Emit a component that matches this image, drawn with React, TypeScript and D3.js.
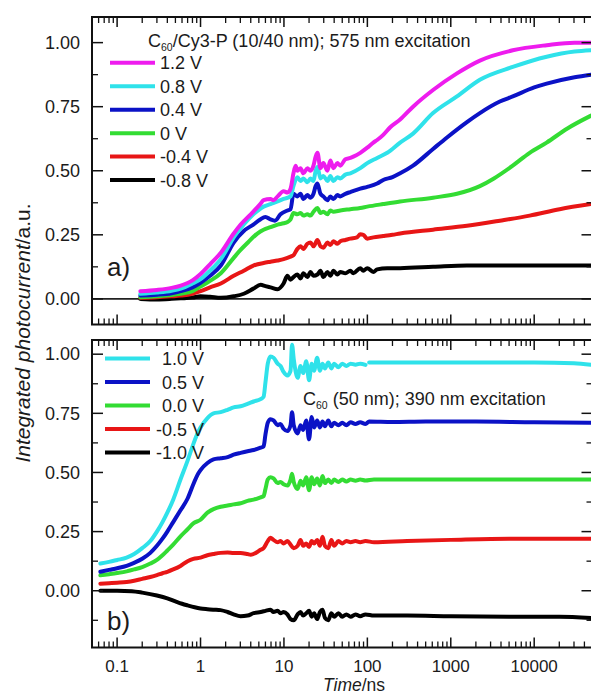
import React from 'react';
import * as d3 from 'd3';

type P = [number, number];

// ---------- axis data ----------
const xMajorTicks = [0.1, 1, 10, 100, 1000, 10000];
const xTickLabels = ['0.1', '1', '10', '100', '1000', '10000'];
const yMajorTicks = [0, 0.25, 0.5, 0.75, 1.0];
const yTickLabels = ['0.00', '0.25', '0.50', '0.75', '1.00'];

// ---------- panel a) C60/Cy3-P, 575 nm ----------
const topLabels = ['1.2 V', '0.8 V', '0.4 V', '0 V', '-0.4 V', '-0.8 V'];

const topP12: P[] = [[0.19,0.03],[0.3,0.035],[0.45,0.043],[0.58,0.052],[0.8,0.072],[1.0,0.097],[1.3,0.135],[1.75,0.18],[2.5,0.255],[3.03,0.29],[4.0,0.33],[5.2,0.37],[5.7,0.385],[6.9,0.39],[7.5,0.385],[8.4,0.40],[9.9,0.42],[11,0.415],[12,0.43],[13.0,0.49],[13.8,0.52],[14.5,0.50],[15.8,0.51],[17.1,0.49],[19.1,0.51],[20.8,0.50],[22.6,0.52],[24,0.555],[25.2,0.57],[27.4,0.51],[29.7,0.53],[33.2,0.50],[36,0.54],[39.2,0.51],[43.7,0.53],[47.4,0.52],[54.5,0.545],[62.5,0.55],[67.9,0.555],[82.3,0.57],[99.7,0.59],[118,0.61],[131,0.62],[155,0.64],[188,0.67],[247,0.70],[353,0.75],[613,0.815],[1186,0.88],[2233,0.93],[5534,0.97],[14100,0.99],[30500,1.0],[48000,1.0]];
const topP08: P[] = [[0.19,0.02],[0.3,0.025],[0.45,0.032],[0.58,0.04],[0.8,0.06],[1.0,0.077],[1.3,0.11],[1.75,0.155],[2.5,0.24],[3.3,0.29],[4.3,0.33],[5.7,0.36],[6.9,0.37],[8.4,0.38],[9.9,0.39],[12,0.40],[13,0.44],[14.5,0.475],[15.8,0.46],[17.1,0.47],[19.1,0.455],[20.8,0.47],[22.6,0.46],[24,0.50],[25.2,0.515],[27.4,0.47],[29.7,0.48],[33.2,0.46],[36,0.48],[39.2,0.46],[43.7,0.475],[47.4,0.47],[54.5,0.485],[62.5,0.49],[82.3,0.51],[99.7,0.53],[131,0.55],[173,0.57],[247,0.61],[353,0.645],[613,0.725],[1186,0.79],[2233,0.855],[5534,0.905],[14100,0.945],[30500,0.965],[48000,0.97]];
const topP04: P[] = [[0.19,0.013],[0.3,0.016],[0.45,0.022],[0.58,0.03],[0.8,0.045],[1.0,0.063],[1.3,0.09],[1.75,0.13],[2.5,0.22],[3.3,0.265],[4.3,0.29],[5.2,0.31],[6.0,0.32],[6.9,0.31],[7.8,0.305],[9.1,0.33],[11,0.345],[12,0.35],[13,0.41],[14.5,0.40],[15.8,0.41],[17.1,0.39],[19.1,0.405],[20.8,0.395],[22.6,0.41],[24,0.44],[25.2,0.45],[27.4,0.41],[29.7,0.40],[33.2,0.385],[36,0.40],[39.2,0.39],[43.7,0.405],[47.4,0.40],[54.5,0.41],[62.5,0.417],[82.3,0.43],[99.7,0.437],[131,0.45],[155,0.464],[200,0.475],[247,0.49],[353,0.52],[613,0.585],[901,0.63],[1562,0.69],[2233,0.725],[3873,0.77],[5534,0.79],[10000,0.825],[14100,0.84],[30500,0.865],[48000,0.875]];
const topP00: P[] = [[0.19,0.006],[0.3,0.01],[0.45,0.015],[0.58,0.02],[0.8,0.03],[1.0,0.048],[1.3,0.07],[1.75,0.10],[2.5,0.16],[3.0,0.19],[3.7,0.22],[4.8,0.255],[5.7,0.27],[6.9,0.28],[8.4,0.29],[9.9,0.295],[11,0.30],[12,0.31],[13,0.335],[14.5,0.33],[15.8,0.335],[17.1,0.325],[19.1,0.33],[20.8,0.325],[22.6,0.34],[25.2,0.355],[27.4,0.335],[29.7,0.34],[33.2,0.33],[36,0.345],[39.2,0.34],[47.4,0.345],[62.5,0.35],[82.3,0.355],[99.7,0.36],[155,0.37],[247,0.38],[613,0.395],[1186,0.41],[2233,0.44],[3290,0.47],[5534,0.52],[8830,0.57],[14100,0.61],[25000,0.665],[48000,0.715]];
const topM04: P[] = [[0.19,0.004],[0.3,0.006],[0.45,0.01],[0.58,0.013],[0.8,0.02],[1.0,0.03],[1.3,0.045],[1.75,0.06],[2.5,0.09],[3.3,0.11],[4.3,0.13],[5.7,0.14],[6.9,0.145],[8.4,0.15],[9.9,0.155],[12,0.165],[13,0.17],[14.5,0.195],[15.8,0.205],[17.1,0.195],[19.1,0.215],[20.8,0.22],[22.6,0.205],[25.2,0.23],[27.4,0.205],[29.7,0.20],[33.2,0.22],[36,0.21],[39.2,0.225],[43.7,0.215],[47.4,0.225],[54.5,0.23],[62.5,0.235],[75,0.24],[82.3,0.252],[89.4,0.25],[99.7,0.235],[118,0.24],[155,0.245],[200,0.25],[247,0.255],[613,0.27],[1562,0.285],[3873,0.305],[8830,0.325],[20180,0.35],[48000,0.37]];
const topM08: P[] = [[0.19,0.0],[0.3,-0.002],[0.45,0.0],[0.58,0.002],[0.8,0.005],[1.0,0.01],[1.3,0.008],[1.75,0.004],[2.5,0.01],[3.3,0.02],[4.3,0.04],[5.25,0.055],[6.0,0.05],[6.9,0.045],[8.4,0.038],[9.9,0.06],[11,0.09],[12,0.075],[13,0.085],[14.5,0.095],[15.8,0.08],[17.1,0.1],[19.1,0.085],[20.8,0.105],[22.6,0.09],[25.2,0.095],[27.4,0.11],[29.7,0.085],[33.2,0.105],[36,0.09],[39.2,0.11],[43.7,0.095],[47.4,0.105],[54.5,0.10],[62.5,0.11],[67.9,0.10],[82.3,0.12],[89.4,0.11],[99.7,0.12],[118,0.105],[131,0.115],[173,0.12],[247,0.12],[613,0.125],[1562,0.13],[5000,0.13],[48000,0.13]];

// ---------- panel b) C60, 390 nm ----------
const botLabels = ['1.0 V', '0.5 V', '0.0 V', '-0.5 V', '-1.0 V'];

const botP10: P[] = [[0.063,0.115],[0.08,0.122],[0.1,0.13],[0.13,0.14],[0.16,0.155],[0.2,0.18],[0.25,0.21],[0.3,0.25],[0.35,0.29],[0.4,0.33],[0.47,0.385],[0.575,0.47],[0.7,0.55],[0.82,0.62],[0.92,0.665],[1.0,0.69],[1.21,0.73],[1.43,0.75],[1.74,0.755],[2.11,0.765],[2.49,0.775],[3.02,0.78],[3.66,0.79],[4.33,0.80],[5.25,0.81],[5.7,0.82],[6.0,0.88],[6.4,0.96],[6.9,0.99],[7.5,0.985],[8.4,0.96],[9.1,0.95],[9.9,0.925],[11,0.91],[12,0.93],[12.5,1.04],[13.1,0.98],[14.6,0.90],[15.8,0.95],[17,0.92],[18.5,0.97],[20,0.89],[21.5,0.96],[23,0.93],[25,0.985],[27,0.93],[29,0.96],[31,0.94],[34,0.965],[37,0.94],[40,0.96],[45,0.945],[50,0.96],[56,0.95],[63,0.96],[72,0.955],[82,0.96],[95,0.955],[100,NaN],[105,0.965],[200,0.965],[500,0.965],[2000,0.965],[10000,0.965],[30000,0.962],[48000,0.955]];
const botP05: P[] = [[0.063,0.08],[0.08,0.088],[0.1,0.095],[0.13,0.105],[0.16,0.118],[0.2,0.135],[0.25,0.16],[0.3,0.19],[0.35,0.22],[0.4,0.25],[0.47,0.29],[0.575,0.34],[0.7,0.39],[0.82,0.45],[0.92,0.49],[1.0,0.51],[1.21,0.54],[1.43,0.555],[1.74,0.56],[2.11,0.565],[2.49,0.575],[3.02,0.583],[3.66,0.59],[4.33,0.595],[5.25,0.605],[5.7,0.61],[6.0,0.66],[6.4,0.71],[6.9,0.725],[7.5,0.72],[8.4,0.70],[9.1,0.705],[9.9,0.685],[11,0.675],[12,0.70],[12.5,0.755],[13.1,0.70],[14.6,0.665],[15.8,0.70],[17,0.68],[18.5,0.72],[20,0.64],[21.5,0.735],[23,0.69],[25,0.72],[27,0.69],[29,0.715],[31,0.695],[34,0.72],[37,0.695],[40,0.71],[45,0.70],[50,0.71],[56,0.70],[63,0.712],[72,0.705],[82,0.712],[95,0.705],[105,0.715],[200,0.713],[500,0.715],[2000,0.715],[10000,0.712],[48000,0.71]];
const botP00: P[] = [[0.063,0.065],[0.08,0.07],[0.1,0.075],[0.13,0.082],[0.16,0.09],[0.2,0.10],[0.25,0.115],[0.3,0.13],[0.35,0.15],[0.4,0.17],[0.47,0.195],[0.575,0.23],[0.7,0.26],[0.82,0.285],[1.0,0.30],[1.21,0.33],[1.43,0.345],[1.74,0.355],[2.11,0.36],[2.49,0.365],[3.02,0.37],[3.66,0.38],[4.33,0.385],[5.25,0.395],[5.7,0.40],[6.0,0.43],[6.4,0.47],[6.9,0.48],[7.5,0.475],[8.4,0.455],[9.1,0.46],[9.9,0.45],[11,0.445],[12,0.47],[12.5,0.495],[13.1,0.46],[14.6,0.43],[15.8,0.465],[17,0.445],[18.5,0.48],[20,0.425],[21.5,0.48],[23,0.45],[25,0.475],[27,0.445],[29,0.485],[31,0.455],[34,0.47],[37,0.455],[40,0.47],[45,0.46],[50,0.47],[56,0.462],[63,0.47],[72,0.465],[82,0.47],[95,0.466],[120,0.47],[300,0.47],[1000,0.47],[5000,0.47],[48000,0.47]];
const botM05: P[] = [[0.063,0.03],[0.08,0.032],[0.1,0.034],[0.13,0.037],[0.16,0.042],[0.2,0.05],[0.25,0.058],[0.3,0.066],[0.35,0.074],[0.4,0.08],[0.47,0.09],[0.575,0.105],[0.7,0.125],[0.82,0.135],[1.0,0.14],[1.21,0.15],[1.43,0.155],[1.74,0.16],[2.11,0.162],[2.49,0.16],[3.02,0.16],[3.66,0.155],[4.0,0.152],[4.6,0.16],[5.25,0.173],[5.7,0.18],[6.4,0.21],[6.9,0.224],[7.5,0.215],[8.4,0.205],[9.1,0.21],[9.9,0.20],[11,0.21],[12,0.195],[13.1,0.18],[14.6,0.19],[15.8,0.215],[17,0.19],[18.5,0.20],[20,0.185],[21.5,0.21],[23,0.20],[25,0.215],[27,0.19],[29,0.228],[31,0.19],[34,0.18],[37,0.215],[40,0.19],[45,0.21],[50,0.20],[56,0.21],[63,0.205],[72,0.21],[82,0.205],[95,0.21],[120,0.205],[300,0.21],[1000,0.215],[5000,0.22],[48000,0.22]];
const botM10: P[] = [[0.063,0.0],[0.1,0.0],[0.15,-0.002],[0.2,-0.008],[0.3,-0.02],[0.4,-0.032],[0.5,-0.045],[0.6,-0.055],[0.7,-0.062],[0.85,-0.07],[1.0,-0.075],[1.21,-0.078],[1.43,-0.08],[1.74,-0.082],[2.11,-0.09],[2.49,-0.1],[3.02,-0.108],[3.66,-0.105],[4.33,-0.095],[5.25,-0.09],[6.0,-0.085],[6.9,-0.08],[7.5,-0.09],[8.4,-0.085],[9.1,-0.095],[9.9,-0.09],[11,-0.10],[12,-0.12],[13.1,-0.125],[14.6,-0.10],[15.8,-0.09],[17,-0.105],[18.5,-0.095],[20,-0.085],[21.5,-0.11],[23,-0.095],[25,-0.12],[27,-0.09],[29,-0.08],[31,-0.115],[34,-0.125],[37,-0.095],[40,-0.11],[45,-0.095],[50,-0.11],[56,-0.10],[63,-0.11],[72,-0.10],[82,-0.108],[95,-0.10],[120,-0.105],[300,-0.105],[1000,-0.108],[5000,-0.11],[20000,-0.11],[48000,-0.115]];

const topSeries = [topP12, topP08, topP04, topP00, topM04, topM08];
const botSeries = [botP10, botP05, botP00, botM05, botM10];

// ---------- style ----------
const COLORS_TOP = ['#ee1cee', '#2fe2ea', '#0b12c6', '#33dc33', '#e81616', '#000000'];
const COLORS_BOT = ['#2fe2ea', '#0b12c6', '#33dc33', '#e81616', '#000000'];
const W = 591, H = 695;
const FONT = '"Liberation Sans", Arial, sans-serif';
const TXT = '#1b1b1b';

const X_LEFT = 92, X_RIGHT = 592.5;
const x = d3.scaleLog().domain([0.05, 50000]).range([X_LEFT, X_RIGHT]);
const yTop = d3.scaleLinear().domain([-0.1, 1.1]).range([324.5, 17]);
const yBot = d3.scaleLinear().domain([-0.24, 1.06]).range([647.5, 340]);

function minorX(): number[] {
  const out: number[] = [];
  for (let e = -2; e <= 4; e++) {
    for (let k = 2; k <= 9; k++) {
      const t = k * Math.pow(10, e);
      if (t > 0.0505 && t < 49900) out.push(t);
    }
  }
  return out;
}
const xMinor = minorX();

function Panel({ y, series, colors, zeroLine }: { y: d3.ScaleLinear<number, number>; series: P[][]; colors: string[]; zeroLine: boolean }) {
  const [d0, d1] = y.domain();
  const yT = y.range()[1], yB = y.range()[0];
  const line = d3.line<P>()
    .defined(d => !isNaN(d[1]))
    .x(d => x(d[0]))
    .y(d => y(d[1]))
    .curve(d3.curveMonotoneX);
  const yMinor: number[] = [];
  for (let v = -0.125; v < d1; v += 0.25) if (v > d0) yMinor.push(v);
  const maj = 10, min = 6;
  const clipId = 'clip' + Math.round(yT);
  return (
    <g>
      <defs>
        <clipPath id={clipId}>
          <rect x={X_LEFT} y={yT} width={X_RIGHT - X_LEFT} height={yB - yT} />
        </clipPath>
      </defs>
      {zeroLine && <line x1={X_LEFT} x2={X_RIGHT} y1={y(0)} y2={y(0)} stroke="#222" strokeWidth={1.6} />}
      <g clipPath={`url(#${clipId})`}>
        {series.map((s, i) => i).reverse().map(i => (
          <path key={i} d={line(series[i]) || ''} fill="none" stroke={colors[i]} strokeWidth={4} strokeLinejoin="round" strokeLinecap="round" />
        ))}
      </g>
      <rect x={X_LEFT} y={yT} width={X_RIGHT - X_LEFT} height={yB - yT} fill="none" stroke="#111" strokeWidth={2} />
      {xMajorTicks.map(t => (
        <g key={'xm' + t}>
          <line x1={x(t)} x2={x(t)} y1={yT} y2={yT + maj} stroke="#111" strokeWidth={1.5} />
          <line x1={x(t)} x2={x(t)} y1={yB} y2={yB - maj} stroke="#111" strokeWidth={1.5} />
        </g>
      ))}
      {xMinor.map(t => (
        <g key={'xn' + t}>
          <line x1={x(t)} x2={x(t)} y1={yT} y2={yT + min} stroke="#111" strokeWidth={1.3} />
          <line x1={x(t)} x2={x(t)} y1={yB} y2={yB - min} stroke="#111" strokeWidth={1.3} />
        </g>
      ))}
      {yMajorTicks.map((v, i) => (
        <g key={'ym' + v}>
          <line x1={X_LEFT} x2={X_LEFT + 11} y1={y(v)} y2={y(v)} stroke="#111" strokeWidth={1.5} />
          <line x1={X_RIGHT} x2={X_RIGHT - 11} y1={y(v)} y2={y(v)} stroke="#111" strokeWidth={1.5} />
          <text x={80} y={y(v) + 6.3} textAnchor="end" fontSize={18} fontFamily={FONT} fill={TXT}>{yTickLabels[i]}</text>
        </g>
      ))}
      {yMinor.map(v => (
        <g key={'yn' + v}>
          <line x1={X_LEFT} x2={X_LEFT + 6} y1={y(v)} y2={y(v)} stroke="#111" strokeWidth={1.3} />
          <line x1={X_RIGHT} x2={X_RIGHT - 6} y1={y(v)} y2={y(v)} stroke="#111" strokeWidth={1.3} />
        </g>
      ))}
    </g>
  );
}

export default function App() {
  const topLegY = d3.range(topLabels.length).map(i => 62.8 + i * 23.45);
  const botLegY = d3.range(botLabels.length).map(i => 358.5 + i * 23.5);
  return (
    <svg width={W} height={H} style={{ position: 'absolute', left: 0, top: 0, background: '#fff' }} fontFamily={FONT}>
      <rect x={0} y={0} width={W} height={H} fill="#fff" />
      <Panel y={yTop} series={topSeries} colors={COLORS_TOP} zeroLine={true} />
      <Panel y={yBot} series={botSeries} colors={COLORS_BOT} zeroLine={false} />

      {/* top legend */}
      <text x={148} y={47} fontSize={18} fill={TXT}>C<tspan fontSize={10.5} dy={3.5}>60</tspan><tspan dy={-3.5}>/Cy3-P (10/40 nm); 575 nm excitation</tspan></text>
      {topLabels.map((l, i) => (
        <g key={l}>
          <line x1={110} x2={155} y1={topLegY[i]} y2={topLegY[i]} stroke={COLORS_TOP[i]} strokeWidth={4} />
          <text x={160} y={topLegY[i] + 6.5} fontSize={18} fill={TXT}>{l}</text>
        </g>
      ))}
      <text x={107} y={276} fontSize={26} fill={TXT}>a)</text>

      {/* bottom legend */}
      <text x={303} y={405} fontSize={18} fill={TXT}>C<tspan fontSize={10.5} dy={3.5}>60</tspan><tspan dy={-3.5}> (50 nm); 390 nm excitation</tspan></text>
      {botLabels.map((l, i) => (
        <g key={l}>
          <line x1={105} x2={150} y1={botLegY[i]} y2={botLegY[i]} stroke={COLORS_BOT[i]} strokeWidth={4} />
          <text x={204} y={botLegY[i] + 6.5} textAnchor="end" fontSize={18} fill={TXT}>{l}</text>
        </g>
      ))}
      <text x={107} y={630} fontSize={26} fill={TXT}>b)</text>

      {/* x tick labels */}
      {xMajorTicks.map((t, i) => (
        <text key={t} x={x(t)} y={671.5} textAnchor="middle" fontSize={17} fill={TXT}>{xTickLabels[i]}</text>
      ))}
      <text x={354} y={691} textAnchor="middle" fontSize={17.5} fill={TXT}><tspan fontStyle="italic">Time</tspan>/ns</text>

      {/* y label */}
      <text transform="translate(30,333) rotate(-90)" textAnchor="middle" fontSize={21} fill={TXT}><tspan fontStyle="italic">Integrated photocurrent</tspan>/a.u.</text>
    </svg>
  );
}
